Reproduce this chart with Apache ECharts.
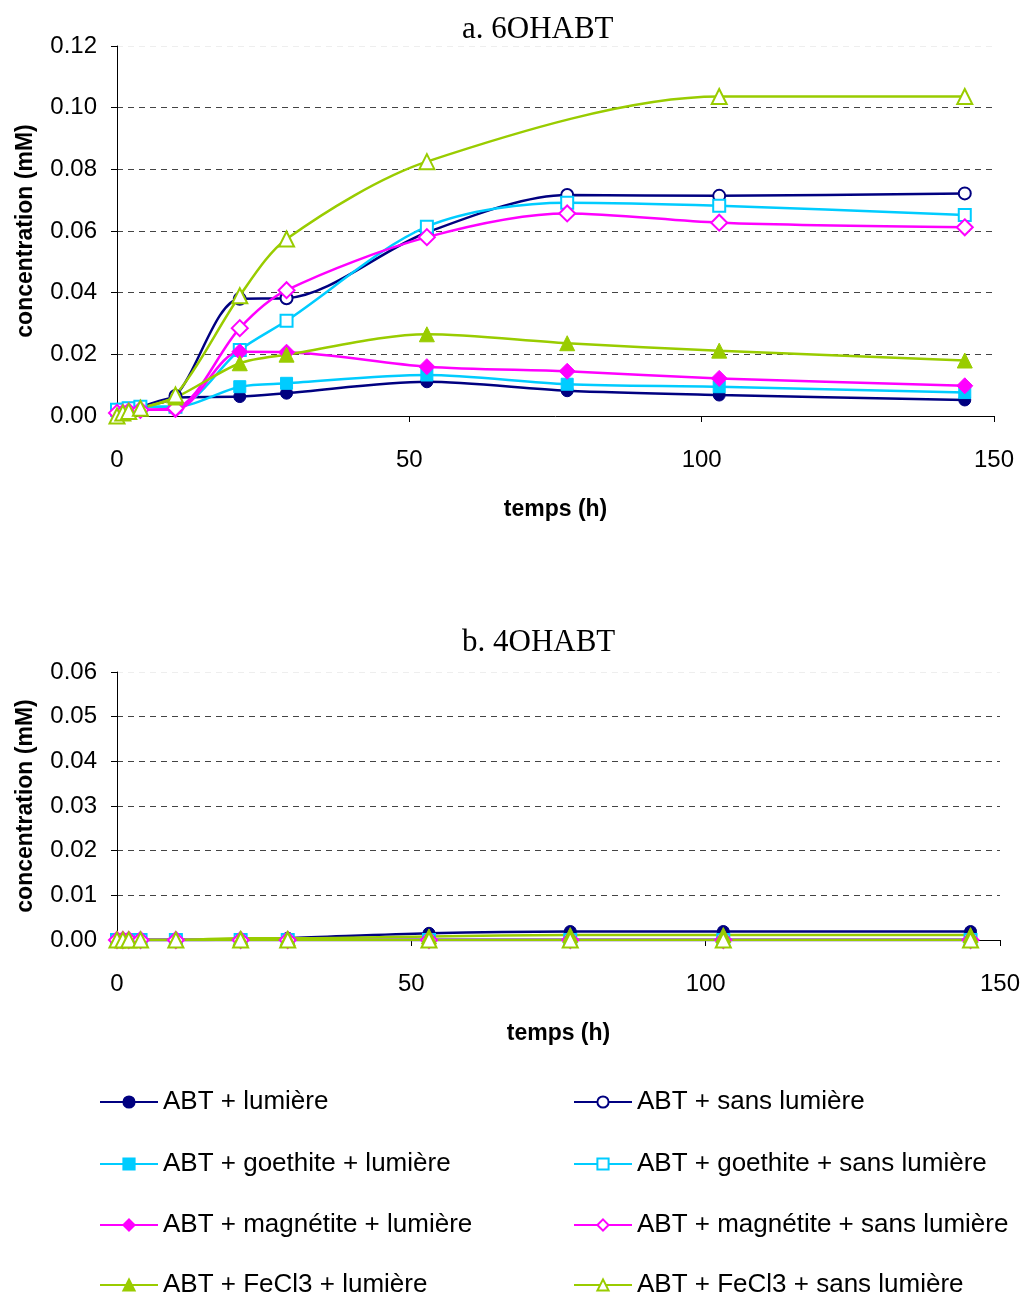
<!DOCTYPE html>
<html>
<head>
<meta charset="utf-8">
<script src="https://cdn.jsdelivr.net/npm/echarts@6/dist/echarts.min.js"></script>
<style>
html,body{margin:0;padding:0;background:#fff;}
#chart{width:1023px;height:1295px;}
</style>
</head>
<body>
<div id="chart"></div>
<script>
// ---- data ----
const times = [0, 1, 2, 4, 10, 21, 29, 53, 77, 103, 145];
const seriesNames = [
  'ABT + lumière', 'ABT + sans lumière',
  'ABT + goethite + lumière', 'ABT + goethite + sans lumière',
  'ABT + magnétite + lumière', 'ABT + magnétite + sans lumière',
  'ABT + FeCl3 + lumière', 'ABT + FeCl3 + sans lumière'
];
// a. 6OHABT (mM)
const a_abtLum      = [0.001, 0.0015, 0.002, 0.003, 0.006, 0.0063, 0.0074, 0.0111, 0.0082, 0.0068, 0.0052];
const a_abtSans     = [0.001, 0.0015, 0.002, 0.003, 0.0065, 0.038, 0.0382, 0.0595, 0.0717, 0.0714, 0.0722];
const a_goeLum      = [0.002, 0.002, 0.0025, 0.003, 0.003, 0.0095, 0.0106, 0.0133, 0.0103, 0.0095, 0.0076];
const a_goeSans     = [0.002, 0.002, 0.0025, 0.003, 0.003, 0.0214, 0.0309, 0.0614, 0.0692, 0.0682, 0.0652];
const a_magLum      = [0.001, 0.001, 0.0015, 0.002, 0.002, 0.0208, 0.0207, 0.016, 0.0145, 0.0122, 0.0098];
const a_magSans     = [0.001, 0.001, 0.0015, 0.002, 0.0025, 0.0285, 0.0408, 0.0580, 0.0657, 0.0627, 0.0612];
const a_feLum       = [0.000, 0.001, 0.0015, 0.0025, 0.006, 0.0171, 0.0199, 0.0265, 0.0236, 0.0212, 0.0180];
const a_feSans      = [0.000, 0.001, 0.0015, 0.0025, 0.0068, 0.0390, 0.0574, 0.0825, null, 0.1036, 0.1036];
// b. 4OHABT (mM)
const b_abtLum      = [0, 0, 0, 0, 0, 0.0002, 0.0004, 0.0015, 0.0019, 0.0019, 0.0019];
const b_abtSans     = [0, 0, 0, 0, 0, 0, 0, 0, 0, 0, 0];
const b_goeLum      = [0, 0, 0, 0, 0, 0, 0, 0, 0, 0, 0];
const b_goeSans     = [0, 0, 0, 0, 0, 0, 0, 0, 0, 0, 0];
const b_magLum      = [0, 0, 0, 0, 0, 0, 0, 0, 0, 0, 0];
const b_magSans     = [0, 0, 0, 0, 0, 0, 0, 0, 0, 0, 0];
const b_feLum       = [0, 0, 0, 0, 0, 0.0004, 0.0004, 0.0008, 0.0011, 0.0011, 0.0011];
const b_feSans      = [0, 0, 0, 0, 0, 0, 0, 0, 0, 0, 0];
const xTicks = [0, 50, 100, 150];
const aYTicks = [0, 0.02, 0.04, 0.06, 0.08, 0.10, 0.12];
const bYTicks = [0, 0.01, 0.02, 0.03, 0.04, 0.05, 0.06];

// ---- styles ----
const NAVY = '#000080', CYAN = '#00CCFF', MAG = '#FF00FF', GRN = '#99CC00';
const styles = [
  {c: NAVY, s: 'circle', f: true, size: 12},
  {c: NAVY, s: 'circle', f: false, size: 12},
  {c: CYAN, s: 'rect', f: true, size: 12},
  {c: CYAN, s: 'rect', f: false, size: 12},
  {c: MAG, s: 'diamond', f: true, size: 16},
  {c: MAG, s: 'diamond', f: false, size: 16},
  {c: GRN, s: 'triangle', f: true, size: 15},
  {c: GRN, s: 'triangle', f: false, size: 15}
];
const aData = [a_abtLum, a_abtSans, a_goeLum, a_goeSans, a_magLum, a_magSans, a_feLum, a_feSans];
const bData = [b_abtLum, b_abtSans, b_goeLum, b_goeSans, b_magLum, b_magSans, b_feLum, b_feSans];

const FONT = 'Liberation Sans, Arial, sans-serif';

function mkSeries(vals, i, idx) {
  const st = styles[i];
  return {
    name: seriesNames[i],
    type: 'line',
    xAxisIndex: idx, yAxisIndex: idx,
    smooth: 0.3,
    connectNulls: true,
    symbol: st.s,
    symbolSize: st.size,
    showAllSymbol: true,
    data: times.map((t, k) => [t, vals[k]]),
    lineStyle: {color: st.c, width: 2.5},
    itemStyle: st.f ? {color: st.c, borderColor: st.c, borderWidth: 1}
                    : {color: '#ffffff', borderColor: st.c, borderWidth: 2},
    emphasis: {disabled: true},
    animation: false
  };
}

function xAx(gridIdx) {
  return {
    type: 'value', gridIndex: gridIdx, min: 0, max: 150, interval: 50,
    name: 'temps (h)', nameLocation: 'middle', nameGap: 82,
    nameTextStyle: {fontFamily: FONT, fontSize: 23, fontWeight: 'bold', color: '#000'},
    axisLine: {show: true, lineStyle: {color: '#000', width: 1}},
    axisTick: {show: true, inside: false, length: 6, lineStyle: {color: '#000'}},
    axisLabel: {fontFamily: FONT, fontSize: 24, color: '#000', margin: 32},
    splitLine: {show: false}
  };
}
function yAx(gridIdx, max, interval, ticks) {
  const cols = ticks.map((v, k) => (k === 0 ? 'rgba(0,0,0,0)' : (k === ticks.length - 1 ? '#eeeeee' : '#444444')));
  return {
    type: 'value', gridIndex: gridIdx, min: 0, max: max, interval: interval,
    name: 'concentration (mM)', nameLocation: 'middle', nameGap: 80, nameRotate: 90,
    nameTextStyle: {fontFamily: FONT, fontSize: 23, fontWeight: 'bold', color: '#000'},
    axisLine: {show: true, lineStyle: {color: '#000', width: 1}},
    axisTick: {show: true, inside: false, length: 6, lineStyle: {color: '#000'}},
    axisLabel: {fontFamily: FONT, fontSize: 24, color: '#000', margin: 20,
                formatter: v => v.toFixed(2)},
    splitLine: {show: true, lineStyle: {type: [6, 5], color: cols, width: 1}}
  };
}

const series = [];
aData.forEach((v, i) => series.push(mkSeries(v, i, 0)));
bData.forEach((v, i) => series.push(mkSeries(v, i, 1)));

// legend: two columns, four rows
const rowCenters = [1099, 1161, 1222, 1282];
const colLefts = [94, 568];
const legends = seriesNames.map((nm, i) => ({
  orient: 'horizontal', itemWidth: 58, itemHeight: 14,
  left: colLefts[i % 2], top: rowCenters[Math.floor(i / 2)] - 15,
  data: [nm],
  textStyle: {fontFamily: FONT, fontSize: 26, color: '#000'},
  selectedMode: false
}));

const chart = echarts.init(document.getElementById('chart'), null, {renderer: 'canvas'});
chart.setOption({
  backgroundColor: '#fff',
  animation: false,
  title: [
    {text: 'a. 6OHABT', left: 457, top: 9,
     textStyle: {fontFamily: 'Liberation Serif, Times New Roman, serif', fontSize: 31, fontWeight: 'normal', color: '#000'}},
    {text: 'b. 4OHABT', left: 457, top: 622,
     textStyle: {fontFamily: 'Liberation Serif, Times New Roman, serif', fontSize: 31, fontWeight: 'normal', color: '#000'}}
  ],
  grid: [
    {left: 117, right: 29, top: 46, height: 370},
    {left: 117, right: 23, top: 672, height: 268}
  ],
  xAxis: [xAx(0), xAx(1)],
  yAxis: [yAx(0, 0.12, 0.02, aYTicks), yAx(1, 0.06, 0.01, bYTicks)],
  legend: legends,
  series: series
});
</script>
</body>
</html>
